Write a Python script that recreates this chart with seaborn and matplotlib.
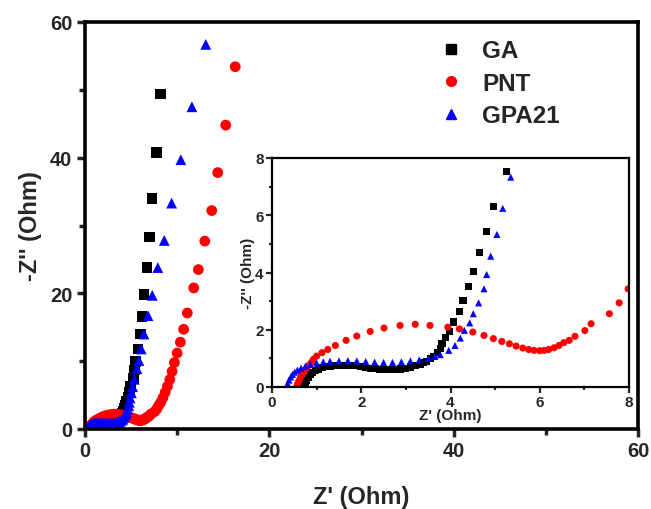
import matplotlib
matplotlib.use("Agg")
import matplotlib.pyplot as plt
from matplotlib.ticker import MultipleLocator
from matplotlib.lines import Line2D
import seaborn as sns
import pandas as pd

sns.set_theme(style="white")
plt.rcParams['font.family'] = ['Liberation Sans', 'DejaVu Sans']
plt.rcParams['font.weight'] = 'bold'
plt.rcParams['axes.labelweight'] = 'bold'

series_names = ["GA", "PNT", "GPA21"]
series_colors = ["black", "red", "blue"]
series_markers = ["s", "o", "^"]

GA_x = [0.71, 0.74, 0.78, 0.82, 0.86, 0.91, 0.97, 1.04, 1.12, 1.21, 1.31, 1.42, 1.53, 1.64, 1.75,
        1.86, 1.98, 2.09, 2.2, 2.31, 2.42, 2.53, 2.64, 2.75, 2.87, 2.98, 3.1, 3.21, 3.32, 3.4,
        3.47, 3.55, 3.62, 3.7, 3.77, 3.81, 3.88, 3.97, 4.07, 4.2, 4.28, 4.4, 4.51, 4.66, 4.81,
        4.97, 5.26, 5.38, 5.49, 5.75, 6.0, 6.18, 6.40, 6.73, 7.02, 7.27, 7.75, 8.18]
GA_y = [0.0, 0.12, 0.23, 0.33, 0.43, 0.51, 0.58, 0.63, 0.67, 0.71, 0.73, 0.75, 0.76, 0.76, 0.76,
        0.74, 0.72, 0.69, 0.66, 0.64, 0.62, 0.61, 0.60, 0.61, 0.63, 0.66, 0.70, 0.74, 0.79, 0.84,
        0.9, 0.98, 1.08, 1.2, 1.34, 1.51, 1.72, 1.94, 2.27, 2.64, 3.02, 3.51, 4.05, 4.69, 5.44,
        6.31, 7.52, 8.7, 10.0, 11.8, 14.0, 16.6, 19.8, 23.8, 28.3, 34.0, 40.8, 49.4]

PNT_x = [0.55, 0.57, 0.6, 0.63, 0.66, 0.7, 0.74, 0.79, 0.84, 0.89, 0.93, 1.0, 1.12, 1.25, 1.42,
         1.66, 1.9, 2.2, 2.51, 2.87, 3.21, 3.54, 3.94, 4.2, 4.5, 4.75, 4.96, 5.15, 5.32, 5.47,
         5.62, 5.75, 5.87, 6.0, 6.1, 6.2, 6.32, 6.43, 6.54, 6.66, 6.79, 7.01, 7.15, 7.56, 7.78,
         7.98, 8.2, 8.45, 8.7, 8.95, 9.2, 9.45, 9.7, 10.0, 10.35, 10.7, 11.1, 11.8, 12.3, 13.0,
         13.75, 14.4, 15.27, 16.3]
PNT_y = [0.0, 0.1, 0.2, 0.3, 0.4, 0.5, 0.6, 0.69, 0.78, 0.87, 0.97, 1.08, 1.2, 1.31, 1.45,
         1.63, 1.78, 1.94, 2.06, 2.15, 2.19, 2.15, 2.09, 2.03, 1.92, 1.80, 1.69, 1.59, 1.51, 1.43,
         1.36, 1.31, 1.28, 1.27, 1.28, 1.31, 1.37, 1.45, 1.55, 1.63, 1.77, 1.97, 2.21, 2.56, 2.94,
         3.43, 3.9, 4.6, 5.4, 6.3, 7.3, 8.5, 9.8, 11.2, 12.8, 14.7, 17.1, 20.8, 23.5, 27.7,
         32.2, 37.8, 44.8, 53.4]

GPA21_x = [0.33, 0.35, 0.38, 0.42, 0.46, 0.51, 0.57, 0.65, 0.75, 0.86, 1.0, 1.15, 1.3, 1.5, 1.7,
           1.9, 2.1, 2.3, 2.5, 2.7, 2.9, 3.1, 3.3, 3.5, 3.65, 3.77, 3.96, 4.1, 4.22, 4.31,
           4.43, 4.51, 4.63, 4.75, 4.81, 4.9, 5.04, 5.17, 5.35, 5.64, 5.85, 6.1, 6.4, 6.84, 7.3,
           7.9, 8.6, 9.4, 10.4, 11.6, 13.1]
GPA21_y = [0.0, 0.12, 0.24, 0.35, 0.44, 0.52, 0.59, 0.66, 0.73, 0.79, 0.84, 0.88, 0.9, 0.91, 0.92,
           0.91, 0.89, 0.87, 0.86, 0.86, 0.88, 0.91, 0.95, 1.01, 1.07, 1.13, 1.28, 1.45, 1.71, 1.98,
           2.24, 2.56, 2.94, 3.43, 3.93, 4.57, 5.33, 6.24, 7.33, 8.9, 10.1, 11.8, 14.0, 16.7, 19.7,
           23.8, 27.8, 33.3, 39.7, 47.5, 56.7]

frames = []
for name, xs, ys in [("GA", GA_x, GA_y), ("PNT", PNT_x, PNT_y), ("GPA21", GPA21_x, GPA21_y)]:
    frames.append(pd.DataFrame({"Z_re": xs, "Z_im": ys, "sample": name}))
df = pd.concat(frames, ignore_index=True)

palette = dict(zip(series_names, series_colors))
markers = dict(zip(series_names, series_markers))

W, H = 651, 510
fig = plt.figure(figsize=(W / 100, H / 100), dpi=100)

# main axes
ax = fig.add_axes([85 / W, (H - 430) / H, (638 - 85) / W, (430 - 23) / H])
sns.scatterplot(data=df, x="Z_re", y="Z_im", hue="sample", style="sample",
                hue_order=series_names, style_order=series_names,
                palette=palette, markers=markers, s=60, linewidth=0, ax=ax, legend=False)
ax.set_xlim(0, 60)
ax.set_ylim(0, 60)
ax.xaxis.set_major_locator(MultipleLocator(20))
ax.xaxis.set_minor_locator(MultipleLocator(10))
ax.yaxis.set_major_locator(MultipleLocator(20))
ax.yaxis.set_minor_locator(MultipleLocator(10))
ax.tick_params(which="major", direction="out", length=6, width=2.5, labelsize=14.5,
               bottom=True, left=True, pad=3)
ax.tick_params(which="minor", direction="out", length=4, width=2.5, bottom=True, left=True)
for t in ax.get_xticklabels() + ax.get_yticklabels():
    t.set_fontweight("bold")
for sp in ax.spines.values():
    sp.set_linewidth(2.6)
    sp.set_color("black")
ax.set_xlabel("Z' (Ohm)", fontsize=17, fontweight="bold", labelpad=18)
ax.set_ylabel("-Z'' (Ohm)", fontsize=17, fontweight="bold", labelpad=6)

# legend
handles = [Line2D([], [], linestyle="none", marker=m, color=c, markersize=7)
           for m, c in zip(series_markers, series_colors)]
leg = ax.legend(handles, series_names, loc="upper left", bbox_to_anchor=(0.622, 0.982),
                frameon=False, fontsize=17.5, handlelength=1.0, handletextpad=0.8,
                labelspacing=0.4, borderaxespad=0)
for t in leg.get_texts():
    t.set_fontweight("bold")

# inset axes
ins = fig.add_axes([272 / W, (H - 388) / H, (629 - 272) / W, (388 - 159) / H])
sns.scatterplot(data=df, x="Z_re", y="Z_im", hue="sample", style="sample",
                hue_order=series_names, style_order=series_names,
                palette=palette, markers=markers, s=26, linewidth=0, ax=ins, legend=False)
ins.set_xlim(0, 8)
ins.set_ylim(0, 8)
ins.xaxis.set_major_locator(MultipleLocator(2))
ins.xaxis.set_minor_locator(MultipleLocator(1))
ins.yaxis.set_major_locator(MultipleLocator(2))
ins.yaxis.set_minor_locator(MultipleLocator(1))
ins.tick_params(which="major", direction="out", length=4, width=1.6, labelsize=11,
                bottom=True, left=True, pad=2)
ins.tick_params(which="minor", direction="out", length=2.5, width=1.6, bottom=True, left=True)
for t in ins.get_xticklabels() + ins.get_yticklabels():
    t.set_fontweight("bold")
for sp in ins.spines.values():
    sp.set_linewidth(1.6)
    sp.set_color("black")
ins.set_xlabel("Z' (Ohm)", fontsize=11, fontweight="bold", labelpad=-1)
ins.set_ylabel("-Z'' (Ohm)", fontsize=11, fontweight="bold", labelpad=0)

fig.savefig("out.png", dpi=100)
